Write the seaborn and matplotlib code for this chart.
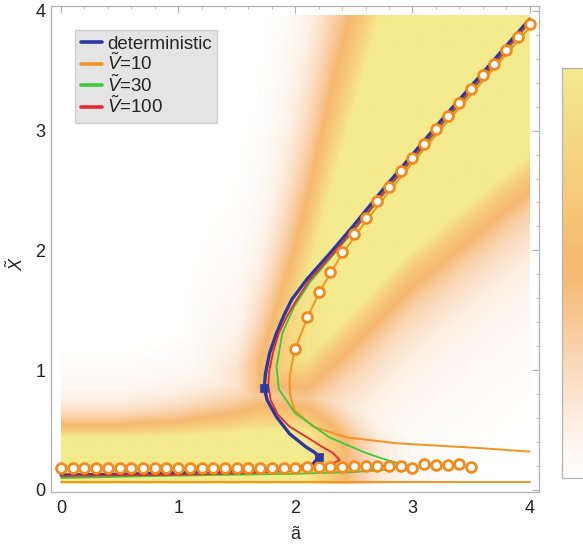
import numpy as np
import pandas as pd
import matplotlib
matplotlib.use("Agg")
import matplotlib.pyplot as plt
import seaborn as sns
from matplotlib.colors import LinearSegmentedColormap
from matplotlib.ticker import MultipleLocator

# ---------------- data ----------------
# deterministic curve (a, X) along the S-shaped branch
det_a = [0.0, 0.5, 1.0, 1.5, 2.0, 2.15, 2.2, 2.17, 2.09, 1.95, 1.84, 1.76, 1.735, 1.745, 1.78, 1.84, 1.9, 1.97,
         2.1, 2.3, 2.5, 2.75, 3.0, 3.25, 3.5, 3.75, 4.0]
det_x = [0.125, 0.13, 0.145, 0.16, 0.185, 0.215, 0.275, 0.31, 0.36, 0.47, 0.61, 0.75, 0.85, 0.97, 1.14, 1.31, 1.45, 1.59,
         1.76, 1.98, 2.21, 2.51, 2.8, 3.09, 3.37, 3.65, 3.93]
# V = 10
v10_a = [0.0, 4.0, None, 4.0, 3.57, 2.86, 2.43, 2.15, 1.99, 1.955, 1.95, 1.97, 2.0, 2.1, 2.2, 2.3, 2.4, 2.6, 2.8, 3.0,
         3.25, 3.5, 3.75, 4.0]
v10_x = [0.07, 0.07, None, 0.32, 0.35, 0.39, 0.44, 0.53, 0.67, 0.8, 0.92, 1.05, 1.18, 1.43, 1.64, 1.81, 1.97, 2.24, 2.49,
         2.73, 3.02, 3.3, 3.58, 3.86]
# V = 30
v30_a = [0.0, 1.0, 2.0, 2.5, 2.8, 2.92, 2.75, 2.6, 2.29, 2.0, 1.86, 1.84, 1.89, 1.99, 2.13, 2.33, 2.53, 2.78, 3.03,
         3.28, 3.53, 3.78, 4.0]
v30_x = [0.10, 0.12, 0.135, 0.15, 0.17, 0.21, 0.26, 0.31, 0.44, 0.64, 0.84, 1.03, 1.31, 1.53, 1.74, 1.97, 2.2, 2.5,
         2.79, 3.08, 3.36, 3.64, 3.9]
# V = 100
v100_a = [0.0, 1.0, 1.6, 2.0, 2.25, 2.38, 2.32, 2.23, 2.1, 1.95, 1.85, 1.79, 1.77, 1.775, 1.81, 1.86, 1.93, 2.0,
          2.12, 2.32, 2.52, 2.77, 3.02, 3.27, 3.52, 3.77, 4.0]
v100_x = [0.117, 0.127, 0.14, 0.16, 0.19, 0.25, 0.31, 0.36, 0.44, 0.53, 0.63, 0.75, 0.87, 0.98, 1.15, 1.31, 1.45, 1.57,
          1.75, 1.97, 2.2, 2.5, 2.79, 3.08, 3.36, 3.64, 3.91]
# V = 10 simulation circles
circ_low_a = [round(0.1 * i, 1) for i in range(36)]
circ_low_x = [0.18] * 11 + [0.185] * 10 + [0.19, 0.19, 0.195, 0.195, 0.2, 0.2, 0.2, 0.2, 0.2, 0.185,
                                            0.215, 0.21, 0.21, 0.22, 0.19]
circ_up_a = [round(2.0 + 0.1 * i, 1) for i in range(21)]
circ_up_x = [1.18, 1.44, 1.65, 1.82, 1.99, 2.14, 2.27, 2.41, 2.53, 2.66, 2.77, 2.89, 3.01, 3.12, 3.23, 3.35,
             3.46, 3.56, 3.67, 3.78, 3.89]
# saddle-node points
sq_a = [2.2, 1.735]
sq_x = [0.275, 0.85]

# background density description (per a column)
bg_a = [0.0, 0.5, 1.0, 1.5, 1.7, 1.9, 2.1, 2.3, 2.5, 2.7, 3.0, 3.5, 4.0]
low_str = [1.0, 1.0, 1.0, 1.0, 1.0, 1.0, 1.0, 0.7, 0.4, 0.18, 0.05, 0.0, 0.0]
low_top = [0.44, 0.44, 0.45, 0.48, 0.5, 0.5, 0.48, 0.45, 0.42, 0.4, 0.35, 0.3, 0.3]
low_fade = [0.15, 0.15, 0.18, 0.24, 0.3, 0.3, 0.3, 0.3, 0.28, 0.25, 0.2, 0.2, 0.2]
up_str = [0.0, 0.0, 0.0, 0.2, 0.5, 0.75, 0.95, 1.0, 1.0, 1.0, 1.0, 1.0, 1.0]
up_lo = [0.8, 0.8, 0.8, 0.8, 0.85, 1.0, 1.1, 1.3, 1.5, 1.7, 2.0, 2.4, 2.8]
up_hi = [1.0, 1.0, 1.0, 1.0, 1.1, 1.4, 1.8, 2.5, 3.2, 3.9, 4.0, 4.0, 4.0]
up_fade_lo = [0.2, 0.2, 0.2, 0.25, 0.3, 0.35, 0.4, 0.42, 0.45, 0.45, 0.45, 0.45, 0.45]
up_fade_hi = [0.5, 0.5, 0.5, 0.5, 0.6, 0.8, 1.0, 1.2, 1.3, 1.3, 1.3, 1.3, 1.3]

# ---------------- style ----------------
sns.set_style("white")
plt.rcParams['font.family'] = ['Liberation Sans', 'DejaVu Sans']
plt.rcParams['mathtext.fontset'] = 'custom'
plt.rcParams['mathtext.rm'] = 'Liberation Sans'
plt.rcParams['mathtext.it'] = 'Liberation Sans:italic'

cmap = LinearSegmentedColormap.from_list(
    "dens", [(0.0, "#ffffff"), (0.12, "#fdf1e6"), (0.3, "#fad5b2"), (0.5, "#f6b870"),
             (0.72, "#f7cd7a"), (1.0, "#f4ea8e")])

fig = plt.figure(figsize=(5.83, 5.47), dpi=100)
ax = fig.add_axes([51 / 583, 1 - 492 / 547, 488 / 583, 486 / 547])

# background field
ga = np.linspace(0, 4, 401)
gx = np.linspace(0.05, 3.96, 392)
A, XX = np.meshgrid(ga, gx)
ls = np.interp(A, bg_a, low_str)
lt = np.interp(A, bg_a, low_top)
lf = np.interp(A, bg_a, low_fade)
low = ls * np.exp(-np.clip(XX - lt, 0, None) / lf)
us = np.interp(A, bg_a, up_str)
ul = np.interp(A, bg_a, up_lo)
uh = np.interp(A, bg_a, up_hi)
ufl = np.interp(A, bg_a, up_fade_lo)
ufh = np.interp(A, bg_a, up_fade_hi)
up = us * np.exp(-np.clip(ul - XX, 0, None) / ufl) * np.exp(-np.clip(XX - uh, 0, None) / ufh)
field = np.clip(np.maximum(low, up), 0, 1)
ax.imshow(field, origin="lower", extent=[0, 4, 0.05, 3.96], cmap=cmap, vmin=0, vmax=1,
          aspect="auto", interpolation="bilinear", zorder=0)

# curves
def curve(a, x, color, lw, label):
    df = pd.DataFrame({"a": a, "X": x})
    seg = df["a"].isna().cumsum()
    first = True
    for _, d in df.dropna().groupby(seg[df["a"].notna()]):
        sns.lineplot(data=d, x="a", y="X", sort=False, estimator=None, color=color, lw=lw,
                     ax=ax, label=label if first else None, zorder=3)
        first = False

curve(det_a, det_x, "#2a3aa0", 2.4, "deterministic")
curve(v10_a, v10_x, "#f39322", 1.4, r"$\tilde{V}$=10")
curve(v30_a, v30_x, "#3ec83e", 1.3, r"$\tilde{V}$=30")
curve(v100_a, v100_x, "#e8282c", 1.3, r"$\tilde{V}$=100")

sns.scatterplot(x=circ_low_a + circ_up_a, y=circ_low_x + circ_up_x, ax=ax, s=50, marker="o",
                facecolor="white", edgecolor="#f28a1c", linewidth=2.0, zorder=5, legend=False)
sns.scatterplot(x=sq_a, y=sq_x, ax=ax, s=36, marker="s", color="#2a3aa0", edgecolor="#2a3aa0",
                zorder=6, legend=False)

ax.set_xlim(-0.085, 4.08)
ax.set_ylim(-0.017, 4.04)
ax.set_xticks([0, 1, 2, 3, 4])
ax.set_yticks([0, 1, 2, 3, 4])
ax.xaxis.set_minor_locator(MultipleLocator(0.2))
ax.yaxis.set_minor_locator(MultipleLocator(0.2))
ax.tick_params(which="both", direction="in", color="#b0b0b0", top=True, right=True)
ax.tick_params(which="major", length=5, width=0.8, labelsize=13, colors="#b0b0b0", labelcolor="#222222")
ax.tick_params(which="minor", length=2.5, width=0.6)
ax.tick_params(axis="x", pad=6)
ax.tick_params(axis="y", pad=4)
for s in ax.spines.values():
    s.set_color("#b4b4b4")
    s.set_linewidth(0.9)
ax.set_xlabel("ã", fontsize=13, labelpad=6)
ax.set_ylabel(r"$\tilde{X}$", fontsize=13)
ax.yaxis.set_label_coords(-0.05, 0.47)

leg = ax.legend(loc="upper left", bbox_to_anchor=(0.049, 0.951), borderaxespad=0, fancybox=False,
                fontsize=13.5, handlelength=1.15, handletextpad=0.25, labelspacing=0.0, borderpad=0.3,
                frameon=True, framealpha=1)
leg.get_frame().set_facecolor("#e4e4e4")
leg.get_frame().set_edgecolor("#cfcfcf")
for h in leg.get_lines():
    h.set_linewidth(2.6)

# colorbar (cut by the figure edge)
cax = fig.add_axes([562 / 583, 1 - 478 / 547, 45 / 583, 410 / 547])
grad = np.linspace(0, 1, 256)[:, None]
cax.imshow(grad, origin="lower", aspect="auto", cmap=cmap, vmin=0, vmax=1)
cax.set_xticks([])
cax.set_yticks([])
for s in cax.spines.values():
    s.set_color("#b4b4b4")
    s.set_linewidth(0.9)

fig.savefig("out.png", dpi=100)
